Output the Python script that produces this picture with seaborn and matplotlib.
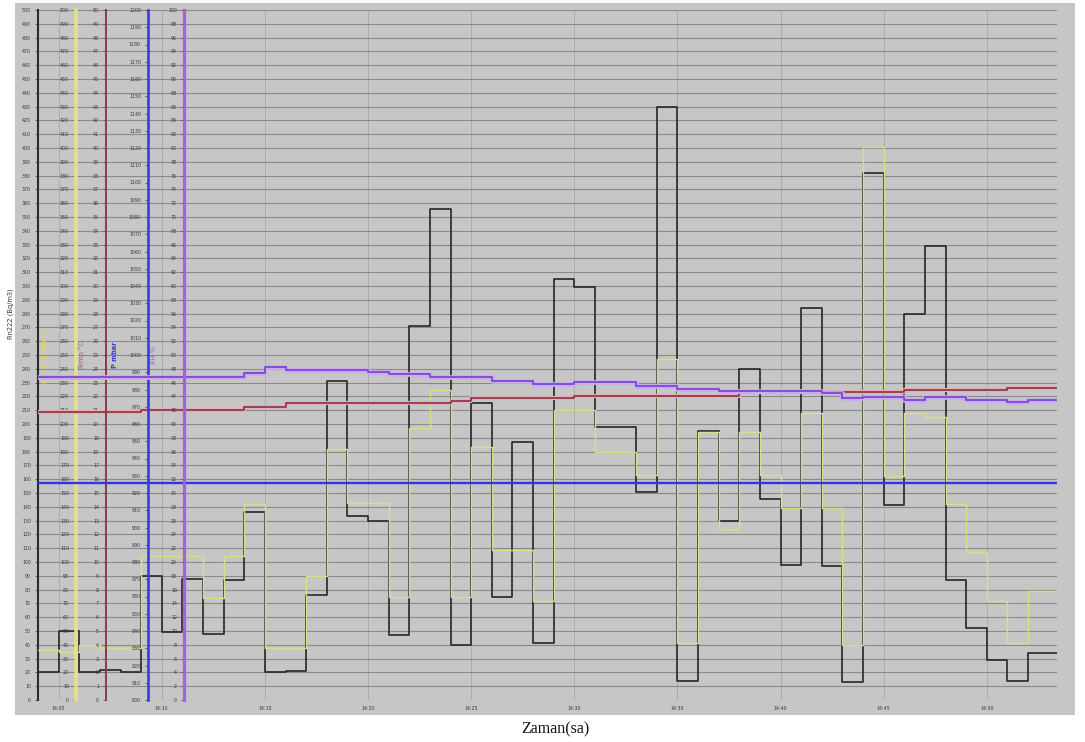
import numpy as np
import pandas as pd
import matplotlib
matplotlib.use("Agg")
import matplotlib.pyplot as plt
import matplotlib.patheffects as pe
from matplotlib.patches import Rectangle
from matplotlib.ticker import FixedLocator, FuncFormatter
import seaborn as sns

# one reading per minute, minutes after 14:00
minutes = list(range(4, 54))
time_end = 53.4
time_ticks = [5, 10, 15, 20, 25, 30, 35, 40, 45, 50]

rn222 = [20, 50, 20, 22, 20, 90, 49, 88, 48, 87, 136, 20, 21, 76, 231, 133, 130, 47, 271, 356,
         40, 215, 75, 187, 41, 305, 299, 198, 198, 151, 430, 14, 195, 130, 240, 146, 98, 284, 97, 13,
         382, 141, 280, 329, 87, 52, 29, 14, 34, 34]
rn220 = [36, 35, 40, 38, 38, 104, 104, 104, 74, 104, 142, 38, 38, 90, 182, 143, 143, 75, 197, 225,
         75, 183, 109, 109, 72, 210, 210, 180, 180, 163, 247, 41, 194, 124, 194, 163, 139, 208, 139, 40,
         401, 162, 208, 205, 142, 107, 72, 41, 79, 79]
temp_c = [20.9] * 5 + [21.0] * 5 + [21.2] * 2 + [21.5] * 8 + [21.7] + [21.9] * 5 + [22.0] * 8 + \
         [22.3] * 8 + [22.5] * 5 + [22.6] * 3
pressure_mbar = [926] * 50
rh_pct = [46.8] * 10 + [47.4, 48.3] + [47.8] * 4 + [47.5] + [47.2] * 2 + [46.8] * 3 + [46.2] * 2 + \
         [45.8] * 2 + [46.1] * 3 + [45.5] * 2 + [45.1] * 2 + [44.8] * 5 + [44.5, 43.8] + [43.9] * 2 + \
         [43.5] + [43.9] * 2 + [43.5] * 2 + [43.2] + [43.5] * 2

W, H = 1085, 742


def extend(vals):
    # repeat the last value so the final step reaches the right edge
    return list(vals) + [vals[-1]]


df = pd.DataFrame({
    "minute": minutes + [time_end],
    "rn222": extend(rn222),
    "rn220": extend(rn220),
    "temp": extend(temp_c),
    "pres": extend(pressure_mbar),
    "rh": extend(rh_pct),
})

sns.set_style("white")
plt.rcParams["font.family"] = ["DejaVu Sans"]

fig = plt.figure(figsize=(W / 100, H / 100), dpi=100)
fig.patches.append(Rectangle((15 / W, (H - 715) / H), 1060 / W, 712 / H, transform=fig.transFigure,
                             facecolor="#c6c6c6", edgecolor="none", zorder=-1))

ax = fig.add_axes([38 / W, (H - 700) / H, 1019 / W, 690 / H])
ax.set_facecolor("none")
for s in ["top", "right", "bottom"]:
    ax.spines[s].set_visible(False)
ax.spines["left"].set_color("#2a2a2a")
ax.spines["left"].set_linewidth(1.5)

tick_fs = 3.4
lab_col = "#3a3a3a"


def style_axis(a, lo, hi, ticks):
    a.set_ylim(lo, hi)
    a.yaxis.set_major_locator(FixedLocator(ticks))
    a.yaxis.set_major_formatter(FuncFormatter(lambda v, p: f"{v:g}"))
    a.tick_params(axis="y", labelsize=tick_fs, labelcolor=lab_col, length=2.5, width=0.6,
                  color="#555555", pad=2.5)


def make_twin(frac, color, lw):
    a = ax.twinx()
    a.patch.set_visible(False)
    for s in ["top", "right", "bottom"]:
        a.spines[s].set_visible(False)
    a.spines["left"].set_visible(True)
    a.spines["left"].set_position(("axes", frac))
    a.spines["left"].set_color(color)
    a.spines["left"].set_linewidth(lw)
    a.yaxis.set_ticks_position("left")
    a.yaxis.set_label_position("left")
    return a


ax_y = make_twin(38 / 1019, "#e2e28a", 2.6)
ax_t = make_twin(68 / 1019, "#8e3848", 1.4)
ax_p = make_twin(110 / 1019, "#3a3ae0", 1.9)
ax_h = make_twin(146 / 1019, "#9a66dc", 2.3)

style_axis(ax, 0, 500, np.arange(0, 501, 10))
style_axis(ax_y, 0, 500, np.arange(0, 501, 10))
style_axis(ax_t, 0, 50, np.arange(0, 51, 1))
style_axis(ax_p, 800, 1200, np.arange(800, 1201, 10))
style_axis(ax_h, 0, 100, np.arange(0, 101, 2))

# grid
ax.set_axisbelow(True)
ax.yaxis.grid(True, color="#8a8a8a", linewidth=0.8)
ax.xaxis.grid(True, color="#a8a8a8", linewidth=0.6)

ax.set_xlim(4, time_end)
ax.xaxis.set_major_locator(FixedLocator(time_ticks))
ax.xaxis.set_major_formatter(FuncFormatter(lambda v, p: f"14:{int(round(v)):02d}"))
ax.tick_params(axis="x", labelsize=tick_fs, labelcolor=lab_col, length=0, pad=4)

# series
sns.lineplot(data=df, x="minute", y="rn220", ax=ax_y, drawstyle="steps-post",
             color="#dcdc88", linewidth=1.0, estimator=None)
sns.lineplot(data=df, x="minute", y="rn222", ax=ax, drawstyle="steps-post",
             color="#262626", linewidth=1.2, estimator=None)
sns.lineplot(data=df, x="minute", y="temp", ax=ax_t, drawstyle="steps-post",
             color="#8a2434", linewidth=1.1, estimator=None,
             path_effects=[pe.Stroke(linewidth=3.0, foreground="#dcb0bc"), pe.Normal()])
sns.lineplot(data=df, x="minute", y="pres", ax=ax_p, drawstyle="steps-post",
             color="#3434e0", linewidth=1.7, estimator=None)
sns.lineplot(data=df, x="minute", y="rh", ax=ax_h, drawstyle="steps-post",
             color="#7a48d4", linewidth=1.3, estimator=None,
             path_effects=[pe.Stroke(linewidth=3.4, foreground="#cbaaf0"), pe.Normal()])

for a in (ax, ax_y, ax_t, ax_p, ax_h):
    a.set_xlabel("")

lab_fs = 4.8
ax.set_ylabel("Rn222 (Bq/m3)", fontsize=lab_fs, color="#333333")
ax.yaxis.set_label_coords(-0.024, 0.56)
ax_y.set_ylabel("Rn220 (Bq/m3)", fontsize=lab_fs, color="#d8d860", fontweight="bold")
ax_y.yaxis.set_label_coords(0.0098, 0.50)
ax_t.set_ylabel("Temp °C", fontsize=lab_fs, color="#9a5a70")
ax_t.yaxis.set_label_coords(0.046, 0.50)
ax_p.set_ylabel("P mbar", fontsize=lab_fs, color="#3a3ae0", fontweight="bold")
ax_p.yaxis.set_label_coords(0.0785, 0.50)
ax_h.set_ylabel("RH %", fontsize=lab_fs, color="#9a66dc")
ax_h.yaxis.set_label_coords(0.117, 0.50)

fig.text(555 / W, 1 - 729 / H, "Zaman(sa)", family="Liberation Serif", fontsize=11.5,
         ha="center", va="center", color="#111111")

fig.savefig("out.png", dpi=100)
